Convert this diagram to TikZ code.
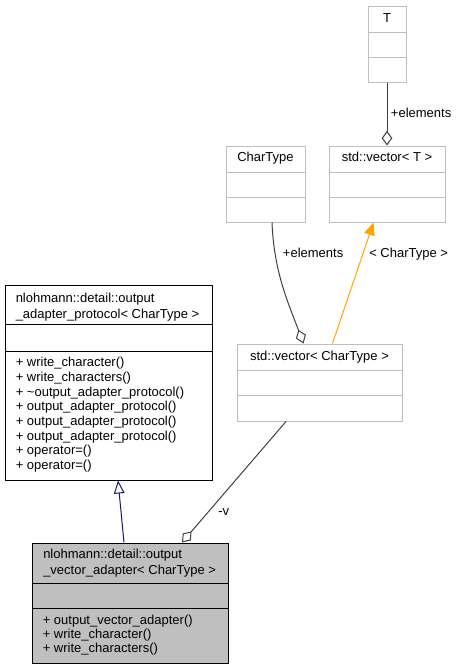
\documentclass[tikz,border=0pt]{standalone}
\usepackage{fontspec}
\setmainfont{Liberation Sans}
\usetikzlibrary{arrows.meta,calc,fit}

\definecolor{edgegray}{HTML}{404040}
\definecolor{lightframe}{HTML}{BFBFBF}
\definecolor{basefill}{HTML}{BFBFBF}
\definecolor{inheritblue}{HTML}{191970}
\definecolor{tmplorange}{HTML}{FFA500}

\begin{document}
\begin{tikzpicture}[x=0.75pt,y=-0.75pt,
  font=\fontsize{9.75}{11}\selectfont,
  classbox/.style={draw=lightframe, line width=0.75pt, inner sep=0pt},
  mainbox/.style={draw=black, line width=0.75pt, inner sep=0pt},
  lightrule/.style={draw=lightframe, line width=0.75pt},
  darkrule/.style={draw=black, line width=0.75pt},
  ctitle/.style={inner sep=0pt, anchor=base},
  ltext/.style={inner sep=0pt, anchor=base west},
  usage/.style={draw=edgegray, line width=0.75pt,
    -{Diamond[open, length=11pt, width=8pt, fill=white]}},
  inherits/.style={draw=inheritblue, line width=0.75pt,
    -{Triangle[open, length=9.75pt, width=8pt, fill=white]}},
  instance/.style={draw=tmplorange, line width=0.75pt,
    -{Triangle[length=9.5pt, width=8pt, fill=tmplorange]}},
  elabel/.style={inner sep=0pt, anchor=base west}]

\useasboundingbox (0,0) rectangle (458,669);

% ---- class T ----
\node[classbox, fit={(368,6) (406,82)}] (T) {};
\draw[lightrule] (368,32) -- (406,32);
\draw[lightrule] (368,57) -- (406,57);
\node[ctitle] (Tname) at (387,22) {T};

% ---- class CharType ----
\node[classbox, fit={(226,146) (305,222)}] (CharType) {};
\draw[lightrule] (226,172) -- (305,172);
\draw[lightrule] (226,197) -- (305,197);
\node[ctitle] (CharTypename) at (265.5,161) {CharType};

% ---- class std::vector< T > ----
\node[classbox, fit={(329,146) (445,222)}] (vecT) {};
\draw[lightrule] (329,172) -- (445,172);
\draw[lightrule] (329,197) -- (445,197);
\node[ctitle] (vecTname) at (387,161) {std::vector< T >};

% ---- class std::vector< CharType > ----
\node[classbox, fit={(237,344) (402,421)}] (vecC) {};
\draw[lightrule] (237,370) -- (402,370);
\draw[lightrule] (237,395) -- (402,395);
\node[ctitle] (vecCname) at (319.5,360) {std::vector< CharType >};

% ---- class output_adapter_protocol ----
\node[mainbox, fit={(5,285) (212,480)}] (proto) {};
\draw[darkrule] (5,324) -- (212,324);
\draw[darkrule] (5,351) -- (212,351);
\node[ltext] (protoA) at (15.5,302.5) {nlohmann::detail::output};
\node[ltext] (protoB) at (15.5,318) {\_adapter\_protocol< CharType >};
\foreach \txt [count=\i from 0] in {
    + write\_character(),
    + write\_characters(),
    + \textasciitilde output\_adapter\_protocol(),
    + output\_adapter\_protocol(),
    + output\_adapter\_protocol(),
    + output\_adapter\_protocol(),
    + operator=(),
    + operator=()}
  \node[ltext] (protoM\i) at (15.5,366.6+14.7*\i) {\txt};

% ---- class output_vector_adapter ----
\node[mainbox, fill=basefill, fit={(32,543) (228,663)}] (adapter) {};
\draw[darkrule] (32,583) -- (228,583);
\draw[darkrule] (32,608) -- (228,608);
\node[ltext] (adapterA) at (43,558.3) {nlohmann::detail::output};
\node[ltext] (adapterB) at (43,574.3) {\_vector\_adapter< CharType >};
\foreach \txt [count=\i from 0] in {
    + output\_vector\_adapter(),
    + write\_character(),
    + write\_characters()}
  \node[ltext] (adapterM\i) at (42.5,624.3+14.2*\i) {\txt};

% ---- relations ----
\draw[usage] (T.south) -- (vecT.north);
\node[elabel] (lblT) at (390.7,117.6) {+elements};

\draw[usage] ($(CharType.south)+(6.5,0)$)
  .. controls ($(CharType.south)+(8.5,50)$) and ($(vecC.north)+(-31,-40)$)
  .. ($(vecC.north)+(-16,0)$);
\node[elabel] (lblC) at (282.7,257.6) {+elements};

\draw[instance] ($(vecC.north)+(13,0)$) -- ($(vecT.south)+(-13.5,0)$);
\node[elabel] (lblTmpl) at (369,257.6) {< CharType >};

\draw[inherits] ($(adapter.north)+(-6,0)$) -- ($(proto.south)+(9.5,0)$);

\draw[usage] ($(vecC.south)+(-33.5,0)$) -- ($(adapter.north)+(52,0)$);
\node[elabel] (lblV) at (218,515) {-v};

\end{tikzpicture}
\end{document}
